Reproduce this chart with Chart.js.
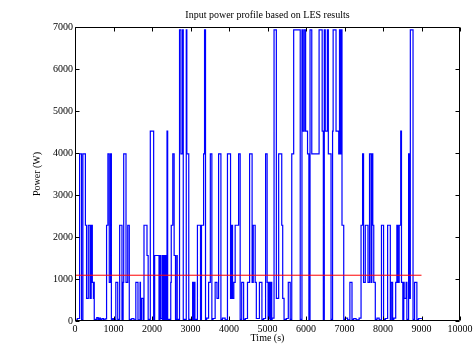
<!DOCTYPE html>
<html>
<head>
<meta charset="utf-8">
<script src="https://cdn.jsdelivr.net/npm/chart.js@4.4.1/dist/chart.umd.min.js"></script>
<style>
  html, body { margin: 0; padding: 0; background: #fff; }
  #wrap { width: 476px; height: 344px; }
</style>
</head>
<body>
<div id="wrap"><canvas id="myChartPower"></canvas></div>
<script>
// step profile: power holds from times[i] until times[i + 1]
const times = [
  0, 60, 120, 170, 205, 270, 300, 345, 390, 420, 450, 478, 490, 500, 565, 600, 630, 660, 700, 740, 780, 820,
  855, 890, 925, 945, 980, 1010, 1060, 1110, 1160, 1220, 1250, 1265, 1325, 1370, 1410, 1475, 1530, 1580,
  1636, 1690, 1700, 1731, 1775, 1792, 1870, 1900, 1956, 2043, 2069, 2182, 2210, 2220, 2260, 2270, 2300, 2310, 2340, 2350, 2380, 2390,
  2407, 2487, 2500, 2540, 2575, 2610, 2645, 2655, 2715, 2753, 2795, 2812, 2890, 2905, 2955, 3055, 3070, 3100, 3115, 3150, 3180,
  3260, 3285, 3340, 3365, 3390, 3420, 3470, 3515, 3555, 3585, 3640, 3688, 3730, 3790, 3830, 3900, 3960,
  4040, 4062, 4092, 4125, 4160, 4250, 4290, 4330, 4380, 4425, 4480, 4535, 4600, 4630, 4680, 4710, 4790, 4855, 4900, 4950,
  4990, 5015, 5030, 5045, 5060, 5075, 5100, 5110, 5120, 5170, 5230, 5290, 5370, 5395, 5430, 5490, 5540, 5590, 5630,
  5680, 5850, 5895, 5920, 5955, 5990, 6040, 6075, 6105, 6150, 6340, 6420, 6450, 6475, 6500, 6555, 6580, 6650, 6690, 6705,
  6780, 6850, 6870, 6890, 6905, 6935, 6980, 7020, 7080, 7140,
  7195, 7240, 7300, 7380, 7430, 7470, 7495, 7540, 7610, 7650, 7690, 7710, 7735, 7760, 7800, 7845, 7900, 7960,
  8015, 8060, 8120, 8190, 8215, 8250, 8280, 8330, 8360, 8388, 8420, 8460, 8480, 8515, 8540, 8550, 8600, 8620, 8665, 8690,
  8710, 8780, 8820, 8880, 8925, 8960, 9010
];
const power = [
  40, 20, 60, 3980, 30, 3980, 2280, 540, 2280, 540, 2280, 920, 540, 920, 40, 80, 30, 70, 40, 60, 30, 50,
  2280, 3980, 920, 3980, 40, 60, 40, 920, 40, 2280, 40, 920, 3980, 920, 2280, 40, 60, 30,
  920, 30, 920, 40, 540, 40, 2280, 1560, 40, 4520, 40, 1560, 40, 1560, 60, 1560, 40, 1560, 40, 1560, 40, 1560,
  4520, 40, 920, 2280, 3980, 1560, 40, 1560, 40, 6930, 3980, 6930, 40, 6930, 3980, 40, 920, 40, 920, 40, 30,
  2280, 40, 2280, 3980, 6930, 40, 70, 920, 3980, 40, 60, 920, 540, 3980, 40, 70, 30,
  3980, 540, 2280, 540, 920, 2280, 3980, 40, 920, 40, 60, 920, 3980, 920, 2280, 920, 60, 920, 40, 60,
  3980, 920, 40, 920, 60, 920, 40, 920, 40, 70, 6930, 540, 3980, 2280, 540, 40, 60, 920, 40,
  3980, 6930, 40, 6930, 4520, 6930, 4520, 3980, 40, 6930, 3980, 6930, 4520, 40, 6930, 4520, 6930, 3980, 40, 4520,
  6930, 4520, 3980, 6930, 3980, 6930, 2280, 40, 70, 30,
  920, 40, 60, 30, 70, 2280, 3980, 920, 2280, 920, 3980, 920, 3980, 2280, 920, 40, 70, 30,
  2280, 40, 60, 2280, 40, 920, 40, 70, 920, 2280, 920, 2280, 4520, 920, 40, 920, 540, 920, 40, 3980,
  540, 6930, 40, 920, 40, 60, 60
];
const meanPower = 1090;
const meanSpan = [0, 9000];
const xTicks = { min: 0, max: 10000, step: 1000 };
const yTicks = { min: 0, max: 7000, step: 1000 };

const serif = "'Liberation Serif', 'Times New Roman', serif";

// MATLAB style box with inward ticks on all four sides
const boxTicks = {
  id: "boxTicks",
  afterDraw(chart) {
    const { ctx, chartArea: { left, right, top, bottom }, scales: { x, y } } = chart;
    const L = Math.round(left) + 0.5, R = Math.round(right) - 0.5;
    const T = Math.round(top) + 0.5, B = Math.round(bottom) - 0.5;
    ctx.save();
    ctx.strokeStyle = "#000";
    ctx.lineWidth = 1;
    ctx.beginPath();
    ctx.rect(L, T, R - L, B - T);
    x.ticks.forEach((t) => {
      const px = Math.round(x.getPixelForValue(t.value)) + 0.5;
      ctx.moveTo(px, B); ctx.lineTo(px, B - 4);
      ctx.moveTo(px, T); ctx.lineTo(px, T + 4);
    });
    y.ticks.forEach((t) => {
      const py = Math.round(y.getPixelForValue(t.value)) + 0.5;
      ctx.moveTo(L, py); ctx.lineTo(L + 4, py);
      ctx.moveTo(R, py); ctx.lineTo(R - 4, py);
    });
    ctx.stroke();
    ctx.restore();
  },
};

new Chart(document.getElementById("myChartPower"), {
  type: "line",
  data: {
    datasets: [
      {
        label: "Mean",
        data: meanSpan.map((t) => ({ x: t, y: meanPower })),
        borderColor: "rgb(255, 0, 0)",
        borderWidth: 1,
        pointRadius: 0,
        order: 0,
      },
      {
        label: "Power",
        data: times.map((t, i) => ({ x: t, y: power[i] })),
        borderColor: "rgb(0, 0, 255)",
        borderWidth: 1.2,
        pointRadius: 0,
        stepped: "after",
        order: 1,
      },
    ],
  },
  options: {
    responsive: true,
    maintainAspectRatio: false,
    animation: false,
    layout: { padding: { left: 0, right: 16, top: 0, bottom: 0 } },
    plugins: {
      legend: { display: false },
      tooltip: { enabled: false },
      title: {
        display: true,
        fullSize: false,
        text: "Input power profile based on LES results",
        color: "#000",
        font: { family: serif, size: 10, weight: "normal" },
        padding: { top: 9, bottom: 6 },
      },
    },
    scales: {
      x: {
        type: "linear",
        min: xTicks.min,
        max: xTicks.max,
        grid: { display: false, drawTicks: false },
        border: { display: false },
        ticks: { stepSize: xTicks.step, color: "#000", padding: 2, maxRotation: 0, font: { family: serif, size: 10 }, callback: (v) => String(v) },
        title: { display: true, text: "Time (s)", color: "#000", padding: { top: 0, bottom: 0 }, font: { family: serif, size: 10 } },
        afterFit: (scale) => { scale.height = 23; },
      },
      y: {
        min: yTicks.min,
        max: yTicks.max,
        grid: { display: false, drawTicks: false },
        border: { display: false },
        ticks: { stepSize: yTicks.step, color: "#000", padding: 2, font: { family: serif, size: 10 }, callback: (v) => String(v) },
        title: { display: true, text: "Power (W)", color: "#000", padding: { top: 31, bottom: 0 }, font: { family: serif, size: 10 } },
        afterFit: (scale) => { scale.width = 75; },
      },
    },
  },
  plugins: [boxTicks],
});
</script>
</body>
</html>
